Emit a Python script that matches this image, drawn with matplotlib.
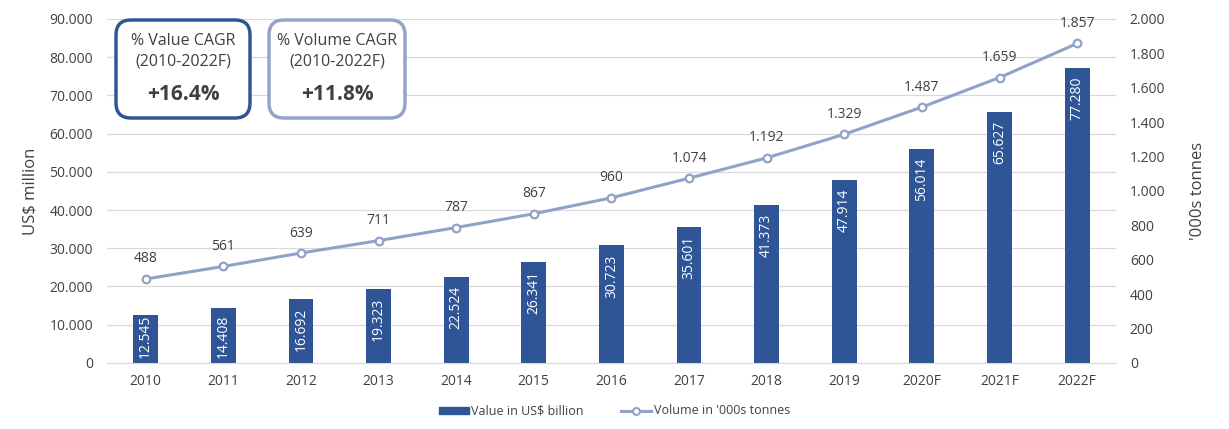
import matplotlib
matplotlib.use('Agg')
import matplotlib.pyplot as plt
from matplotlib.patches import FancyBboxPatch, Patch
from matplotlib.lines import Line2D
from matplotlib.transforms import IdentityTransform
import numpy as np

plt.rcParams['font.family'] = ['Open Sans', 'DejaVu Sans']

# data
years = ['2010', '2011', '2012', '2013', '2014', '2015', '2016', '2017',
         '2018', '2019', '2020F', '2021F', '2022F']
value_musd = [12545, 14408, 16692, 19323, 22524, 26341, 30723, 35601,
              41373, 47914, 56014, 65627, 77280]
volume_kt = [488, 561, 639, 711, 787, 867, 960, 1074, 1192, 1329, 1487, 1659, 1857]

BAR_COL = '#2F5597'
LINE_COL = '#8FA2C8'
TXT = '#404040'
W, H = 1229, 429


def dotfmt(v):
    return f'{int(round(v)):,}'.replace(',', '.')


fig = plt.figure(figsize=(W / 100, H / 100), dpi=100)
ax = fig.add_axes([0.087, 0.154, 0.821, 0.802])
ax2 = ax.twinx()

x = np.arange(len(years))
ax.bar(x, value_musd, width=0.32, color=BAR_COL, zorder=2)
ax_h_px = 0.802 * H
for xi, v in zip(x, value_musd):
    bar_px = v / 90000 * ax_h_px
    off_px = 9
    if bar_px - off_px - 38 < 10:
        off_px = max(0, bar_px - 48)
    ax.annotate(dotfmt(v), (xi, v), xytext=(0, -off_px * 0.72), textcoords='offset points',
                rotation=90, ha='center', va='top', color='white', fontsize=10,
                annotation_clip=False, zorder=4)

ax.set_ylim(0, 90000)
ax.set_yticks(np.arange(0, 90001, 10000))
ax.set_yticklabels([dotfmt(t) for t in np.arange(0, 90001, 10000)])
ax.set_xlim(-0.5, len(years) - 0.5)
ax.set_xticks(x)
ax.set_xticklabels(years)
ax.grid(axis='y', color='#D9D9D9', lw=0.9, zorder=0)
ax.set_axisbelow(True)
for s in ['top', 'left', 'right']:
    ax.spines[s].set_visible(False)
ax.spines['bottom'].set_color('#D9D9D9')
ax.tick_params(axis='both', length=0, colors=TXT, labelsize=10)
ax.tick_params(axis='y', pad=10)
ax.tick_params(axis='x', pad=8)
ax.set_ylabel('US$ million', color=TXT, fontsize=12, labelpad=8)

ax2.plot(x, volume_kt, color=LINE_COL, lw=2.2, marker='o', ms=5.5,
         mfc='white', mec=LINE_COL, mew=1.6, zorder=3)
for xi, v in zip(x, volume_kt):
    ax2.annotate(dotfmt(v), (xi, v), xytext=(0, 9), textcoords='offset points',
                 ha='center', va='bottom', color=TXT, fontsize=10)
ax2.set_ylim(0, 2000)
ax2.set_yticks(np.arange(0, 2001, 200))
ax2.set_yticklabels([dotfmt(t) for t in np.arange(0, 2001, 200)])
for s in ['top', 'left', 'right', 'bottom']:
    ax2.spines[s].set_visible(False)
ax2.tick_params(axis='y', length=0, colors=TXT, labelsize=10, pad=10)
ax2.set_ylabel("'000s tonnes", color=TXT, fontsize=12, labelpad=18)

# CAGR boxes, drawn in pixel coordinates
boxes = [
    (116, 250, BAR_COL, '% Value CAGR', '+16.4%'),
    (269, 405, '#94A5C4', '% Volume CAGR', '+11.8%'),
]
for x0, x1, ec, title, pct in boxes:
    y_top, y_bot = 20, 118
    p = FancyBboxPatch((x0, H - y_bot), x1 - x0, y_bot - y_top,
                       boxstyle='round,pad=0,rounding_size=15',
                       transform=IdentityTransform(), fc='white', ec=ec, lw=2.5,
                       zorder=5)
    fig.add_artist(p)
    cx = (x0 + x1) / 2 / W
    fig.text(cx, 1 - 41 / H, title, ha='center', va='center', fontsize=11.5, color=TXT, zorder=6)
    fig.text(cx, 1 - 62 / H, '(2010-2022F)', ha='center', va='center', fontsize=11.5, color=TXT, zorder=6)
    fig.text(cx, 1 - 94 / H, pct, ha='center', va='center', fontsize=15, fontweight='bold',
             color=TXT, zorder=6)

handles = [Patch(color=BAR_COL, label='Value in US$ billion'),
           Line2D([0], [0], color=LINE_COL, lw=2.2, marker='o', ms=5, mfc='white',
                  mec=LINE_COL, mew=1.5, label="Volume in '000s tonnes")]
fig.legend(handles=handles, loc='center', bbox_to_anchor=(0.5, 1 - 411 / H), ncol=2,
           frameon=False, fontsize=9, handlelength=2.4, handleheight=0.5, columnspacing=3,
           handletextpad=0.2, labelcolor=TXT)

fig.savefig('out.png', dpi=100, facecolor='white')
